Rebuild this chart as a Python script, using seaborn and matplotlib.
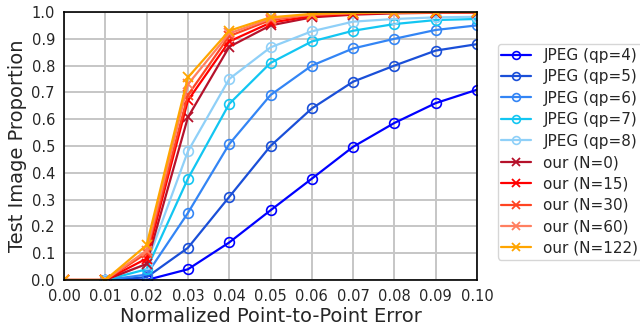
import matplotlib
matplotlib.use('Agg')
import matplotlib.pyplot as plt
import numpy as np
import seaborn as sns

sns.set_style('white')
plt.rcParams['font.family'] = ['DejaVu Sans']

x = [0.00, 0.01, 0.02, 0.03, 0.04, 0.05, 0.06, 0.07, 0.08, 0.09, 0.10]
xj = x[1:]

jpeg_qp4 = [0.0, 0.0, 0.04, 0.14, 0.26, 0.378, 0.497, 0.586, 0.66, 0.71]
jpeg_qp5 = [0.0, 0.01, 0.12, 0.31, 0.50, 0.64, 0.74, 0.80, 0.856, 0.88]
jpeg_qp6 = [0.0, 0.02, 0.25, 0.507, 0.69, 0.80, 0.864, 0.90, 0.933, 0.95]
jpeg_qp7 = [0.0, 0.04, 0.378, 0.657, 0.81, 0.89, 0.93, 0.955, 0.97, 0.974]
jpeg_qp8 = [0.0, 0.06, 0.48, 0.75, 0.868, 0.928, 0.964, 0.974, 0.98, 0.982]

our_n0 = [0.0, 0.0, 0.06, 0.607, 0.87, 0.95, 0.98, 0.99, 0.995, 0.997, 0.998]
our_n15 = [0.0, 0.0, 0.08, 0.67, 0.89, 0.96, 0.985, 0.993, 0.997, 0.998, 0.999]
our_n30 = [0.0, 0.0, 0.10, 0.69, 0.91, 0.97, 0.99, 0.995, 0.998, 0.999, 1.0]
our_n60 = [0.0, 0.0, 0.11, 0.73, 0.92, 0.975, 0.99, 0.996, 0.998, 0.999, 1.0]
our_n122 = [0.0, 0.0, 0.13, 0.756, 0.93, 0.98, 0.993, 0.997, 0.999, 1.0, 1.0]

xticks = [0.00, 0.01, 0.02, 0.03, 0.04, 0.05, 0.06, 0.07, 0.08, 0.09, 0.10]
yticks = [0.0, 0.1, 0.2, 0.3, 0.4, 0.5, 0.6, 0.7, 0.8, 0.9, 1.0]

jpeg_series = [('JPEG (qp=4)', jpeg_qp4, '#0000ff'),
               ('JPEG (qp=5)', jpeg_qp5, '#1a4fd8'),
               ('JPEG (qp=6)', jpeg_qp6, '#3385f5'),
               ('JPEG (qp=7)', jpeg_qp7, '#12c6f2'),
               ('JPEG (qp=8)', jpeg_qp8, '#8fd0f8')]
our_series = [('our (N=0)', our_n0, '#b5122b'),
              ('our (N=15)', our_n15, '#ff0000'),
              ('our (N=30)', our_n30, '#ff4422'),
              ('our (N=60)', our_n60, '#ff7f60'),
              ('our (N=122)', our_n122, '#ffa500')]

fig = plt.figure(figsize=(6.4, 3.28), dpi=100)
ax = fig.add_axes([64/640, 1-280/328, (477-64)/640, (280-12)/328])

for name, vals, col in jpeg_series:
    sns.lineplot(x=xj, y=vals, ax=ax, color=col, marker='o', markersize=7,
                 markerfacecolor='none', markeredgecolor=col, markeredgewidth=1.2,
                 linewidth=1.6, label=name)
for name, vals, col in our_series:
    sns.lineplot(x=x, y=vals, ax=ax, color=col, marker='x', markersize=7,
                 markeredgecolor=col, markeredgewidth=1.3,
                 linewidth=1.6, label=name)

ax.set_xlim(0, 0.1)
ax.set_ylim(0, 1)
ax.set_xticks(xticks)
ax.set_yticks(yticks)
ax.set_xticklabels(['%.2f' % v for v in xticks], fontsize=10.5)
ax.set_yticklabels(['%.1f' % v for v in yticks], fontsize=10.5)
ax.grid(True, color='#c6c6c6', linewidth=1.4)
ax.tick_params(direction='out', length=4, width=1, pad=2.5)
for s in ax.spines.values():
    s.set_color('black')
    s.set_linewidth(1.2)
ax.set_xlabel('Normalized Point-to-Point Error', fontsize=14, labelpad=2)
ax.set_ylabel('Test Image Proportion', fontsize=14, labelpad=3)
ax.legend(loc='upper left', bbox_to_anchor=(1.05, 0.88), borderaxespad=0,
          fontsize=11, frameon=True, handlelength=1.95, borderpad=0.25,
          labelspacing=0.42, handletextpad=0.8, markerscale=0.8)

plt.savefig('out.png', dpi=100)
